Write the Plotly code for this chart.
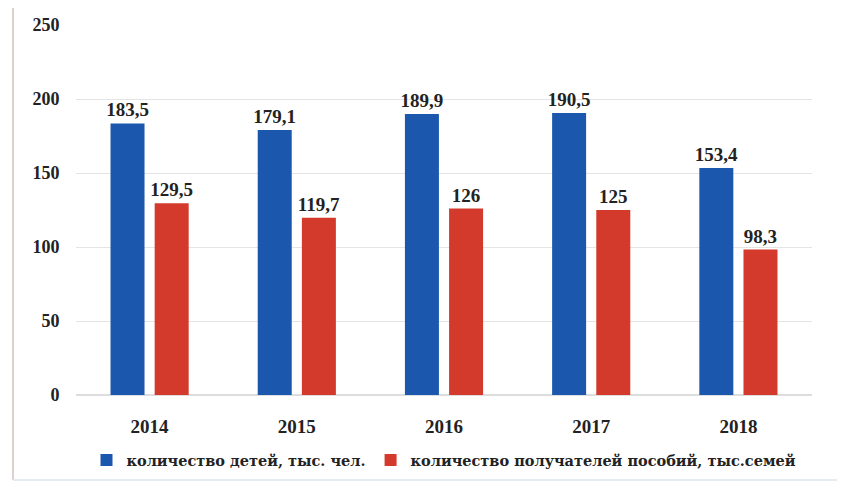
import plotly.graph_objects as go

years = ["2014", "2015", "2016", "2017", "2018"]
children = [183.5, 179.1, 189.9, 190.5, 153.4]
recipients = [129.5, 119.7, 126, 125, 98.3]
series_names = ["количество детей, тыс. чел.", "количество получателей пособий, тыс.семей"]
y_ticks = [0, 50, 100, 150, 200, 250]

def fmt(v):
    return ("%g" % v).replace(".", ",")

FONT = "DejaVu Serif"
NUMFONT = "Liberation Serif"
INK = "#222222"

def label(v):
    return "<b>" + fmt(v) + "</b>"

fig = go.Figure()
fig.add_trace(go.Bar(
    x=years, y=children, name="<b>" + series_names[0] + "</b>",
    marker=dict(color="#1b58ad", line=dict(width=0)),
    text=[label(v) for v in children], textposition="outside",
    textfont=dict(family=NUMFONT, size=19, color=INK),
    constraintext="none", cliponaxis=False,
))
fig.add_trace(go.Bar(
    x=years, y=recipients, name="<b>" + series_names[1] + "</b>",
    marker=dict(color="#d33a2b", line=dict(width=0)),
    text=[label(v) for v in recipients], textposition="outside",
    textfont=dict(family=NUMFONT, size=19, color=INK),
    constraintext="none", cliponaxis=False,
))

fig.update_layout(
    width=845, height=493,
    margin=dict(l=68, r=41, t=17, b=106, autoexpand=False),
    paper_bgcolor="white", plot_bgcolor="white",
    barmode="group", bargap=0.40, bargroupgap=0.23,
    font=dict(family=NUMFONT, size=15, color=INK),
    showlegend=True,
    legend=dict(orientation="h", x=0.5, xanchor="center",
                y=-0.176, yanchor="middle",
                font=dict(family=FONT, size=14.5, color=INK),
                itemwidth=30, tracegroupgap=0),
    yaxis=dict(range=[0, 250], tickvals=y_ticks,
               ticktext=["<b>%d</b>" % t for t in y_ticks],
               showgrid=True, gridcolor="#e4e4e4",
               gridwidth=1, zeroline=True, zerolinecolor="#dddddd", showline=False,
               tickfont=dict(family=NUMFONT, size=18, color=INK),
               ticks="outside", ticklen=12, tickcolor="white",
               automargin=False),
    xaxis=dict(showline=False, ticks="outside", ticklen=14, tickcolor="white",
               tickvals=years, ticktext=["<b>%s</b>" % y for y in years],
               tickfont=dict(family=NUMFONT, size=19, color=INK),
               tickangle=0, automargin=False),
)

# faint frame of the original picture (left and bottom edges)
fig.add_shape(type="line", xref="paper", yref="paper",
              x0=-0.0856, x1=-0.0856, y0=-0.23, y1=1.05,
              line=dict(color="#d9d2ce", width=2))
fig.add_shape(type="line", xref="paper", yref="paper",
              x0=-0.0856, x1=1.04, y0=-0.23, y1=-0.23,
              line=dict(color="#e3ecf3", width=2))

fig.write_html("out.html")
